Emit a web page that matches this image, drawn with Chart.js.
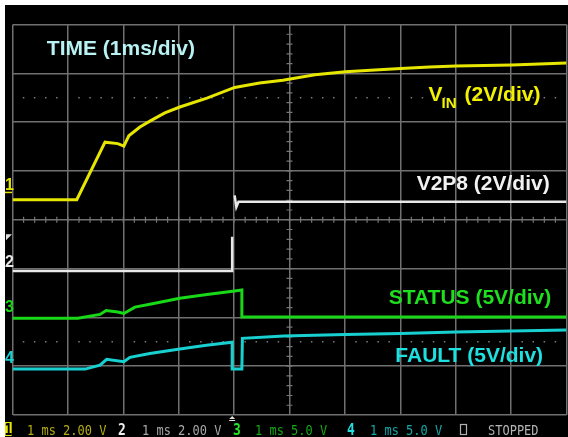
<!DOCTYPE html>
<html lang="en">
<head>
<meta charset="UTF-8">
<title>Start-up waveforms</title>
<script src="https://cdn.jsdelivr.net/npm/chart.js"></script>
<style>
    html, body { margin: 0; background: #fff; }
    #scope {
        position: absolute;
        left: 5px; top: 5px;
        width: 563px; height: 432px;
        background: #000;
    }
</style>
</head>
<body>
<div id="scope"><canvas id="scopeChart"></canvas></div>
<script>
// x = time in ms (1 ms/div), y = screen level in divisions (centre line = 0)
const vinTime = [0, 1.16, 1.67, 1.90, 2.01, 2.10, 2.30, 2.48, 2.75, 3.02, 3.51, 4.01, 4.46, 4.88, 5.46, 6.01, 6.54, 7.01, 7.53, 8.00, 8.52, 9.01, 9.51, 10];
const vinDiv  = [0.41, 0.41, 1.59, 1.56, 1.51, 1.72, 1.90, 2.02, 2.19, 2.31, 2.49, 2.71, 2.80, 2.86, 2.97, 3.03, 3.07, 3.10, 3.13, 3.15, 3.16, 3.17, 3.19, 3.21];

const v2p8Time = [0, 3.965, 3.965, 3.99, 4.01, 4.04, 4.08, 10];
const v2p8Div  = [-1.05, -1.05, -0.35, null, 0.50, 0.26, 0.37, 0.37];

const statusTime = [0, 1.18, 1.58, 1.69, 1.90, 2.01, 2.21, 2.48, 3.02, 3.51, 4.01, 4.14, 4.14, 10];
const statusDiv  = [-2.02, -2.02, -1.94, -1.86, -1.89, -1.92, -1.79, -1.73, -1.61, -1.53, -1.46, -1.44, -1.99, -1.99];

const faultTime = [0, 1.31, 1.58, 1.70, 2.01, 2.12, 2.48, 3.02, 3.50, 3.965, 3.965, 4.14, 4.15, 4.90, 6.01, 7.01, 8.00, 9.01, 10];
const faultDiv  = [-3.06, -3.06, -2.98, -2.86, -2.91, -2.82, -2.74, -2.65, -2.57, -2.51, -3.06, -3.06, -2.43, -2.38, -2.35, -2.33, -2.30, -2.28, -2.26];

const readouts = ['1 ms 2.00 V', '1 ms 2.00 V', '1 ms 5.0 V', '1 ms 5.0 V'];
const runState = 'STOPPED';

function pts(t, v) { return t.map((x, i) => ({ x: x, y: v[i] })); }

const LABEL_FONT = "bold 21px 'Liberation Sans', Arial, sans-serif";

const scopeDecor = {
    id: 'scopeDecor',
    beforeDatasetsDraw(chart) {
        const { ctx, scales: { x, y } } = chart;
        const cx = x.getPixelForValue(5), cy = y.getPixelForValue(0);
        ctx.save();
        // minor ticks on the centre lines
        ctx.strokeStyle = '#767676';
        ctx.lineWidth = 1.2;
        ctx.beginPath();
        for (let k = 1; k < 50; k++) {
            const px = x.getPixelForValue(k / 5);
            ctx.moveTo(px, cy - 3); ctx.lineTo(px, cy + 3);
        }
        for (let k = -19; k < 20; k++) {
            const py = y.getPixelForValue(k / 5);
            ctx.moveTo(cx - 3, py); ctx.lineTo(cx + 3, py);
        }
        ctx.stroke();
        // dotted lines at +/-2.5 div
        ctx.fillStyle = '#7c7c7c';
        [2.5, -2.5].forEach(lv => {
            const py = y.getPixelForValue(lv);
            for (let k = 1; k < 50; k++) {
                if (k % 5 === 0) continue;
                ctx.fillRect(x.getPixelForValue(k / 5) - 0.75, py - 0.75, 1.5, 1.5);
            }
        });
        ctx.restore();
    },
    afterDatasetsDraw(chart) {
        const { ctx, scales: { x, y } } = chart;
        ctx.save();
        ctx.textAlign = 'left';
        ctx.textBaseline = 'alphabetic';
        ctx.font = LABEL_FONT;
        const put = (txt, xv, yv, col) => {
            ctx.fillStyle = col;
            ctx.fillText(txt, x.getPixelForValue(xv), y.getPixelForValue(yv));
        };
        put('TIME (1ms/div)', 0.62, 3.375, '#b8f2f2');
        put('V2P8 (2V/div)', 7.295, 0.61, '#f2f2f2');
        put('STATUS (5V/div)', 6.79, -1.726, '#1ee01e');
        put('FAULT (5V/div)', 6.91, -2.908, '#1ee0e0');
        // V with subscript IN
        const vx = x.getPixelForValue(7.511), vy = y.getPixelForValue(2.433);
        ctx.fillStyle = '#f2f200';
        ctx.fillText('V', vx, vy);
        const vw = ctx.measureText('V').width;
        ctx.font = "bold 15px 'Liberation Sans', Arial, sans-serif";
        ctx.fillText('IN', vx + vw - 1, vy + 7);
        ctx.font = LABEL_FONT;
        ctx.fillText('(2V/div)', x.getPixelForValue(8.16), vy);
        ctx.restore();
    },
    afterDraw(chart) {
        const { ctx, scales: { x, y } } = chart;
        ctx.save();
        // channel ground markers on the left edge
        ctx.font = "bold 16px 'Liberation Sans', Arial, sans-serif";
        ctx.textAlign = 'center';
        ctx.textBaseline = 'alphabetic';
        const marker = (txt, yv, col) => {
            ctx.fillStyle = col;
            ctx.fillText(txt, 4.5, y.getPixelForValue(yv));
        };
        marker('1', 0.61, '#e6e600');
        ctx.fillStyle = '#e6e600';
        ctx.fillRect(0, y.getPixelForValue(0.575), 7, 1.5);
        marker('2', -0.962, '#e8e8e8');
        marker('3', -1.884, '#18d818');
        marker('4', -2.941, '#18d0d0');
        // trigger level arrow
        const ty = y.getPixelForValue(-0.36);
        ctx.fillStyle = '#e0e0e0';
        ctx.beginPath();
        ctx.moveTo(1, ty - 3); ctx.lineTo(7, ty - 3); ctx.lineTo(1, ty + 3);
        ctx.closePath(); ctx.fill();
        // trigger time marker under the grid
        const tx = x.getPixelForValue(3.965), by = chart.chartArea.bottom;
        ctx.beginPath();
        ctx.moveTo(tx - 3, by + 4); ctx.lineTo(tx + 3, by + 4); ctx.lineTo(tx, by + 1);
        ctx.closePath(); ctx.fill();
        ctx.fillRect(tx - 3, by + 5, 6, 1);

        // status bar (text slightly stretched vertically like the scope font)
        const base = 430;
        ctx.textAlign = 'left';
        ctx.fillStyle = '#e6e600';
        ctx.fillRect(0, 417, 6.7, 14);
        const seg = (txt, px, col, bold) => {
            ctx.save();
            ctx.translate(px, base);
            ctx.scale(1, 1.2);
            ctx.font = (bold ? 'bold 13px' : '12px') + " 'DejaVu Sans Mono', monospace";
            ctx.fillStyle = col;
            ctx.fillText(txt, 0, 0);
            ctx.restore();
        };
        seg('1', -0.5, '#000', true);
        seg(readouts[0], 22, '#b4ac10', false);
        seg('2', 113, '#eeeeee', true);
        seg(readouts[1], 137, '#a8a8a8', false);
        seg('3', 228, '#22e622', true);
        seg(readouts[2], 250, '#14a814', false);
        seg('4', 342, '#22e0e0', true);
        seg(readouts[3], 365, '#14a8a8', false);
        ctx.strokeStyle = '#b0b0b0';
        ctx.lineWidth = 1.2;
        ctx.strokeRect(455.5, 419.5, 6, 10);
        seg(runState, 483, '#b4b4b4', false);
        ctx.restore();
    }
};

const trace = (data, color, width) => ({
    data: data,
    showLine: true,
    borderColor: color,
    backgroundColor: color,
    borderWidth: width,
    pointRadius: 0,
    tension: 0,
    spanGaps: false
});

new Chart(document.getElementById('scopeChart'), {
    type: 'scatter',
    data: {
        datasets: [
            trace(pts(vinTime, vinDiv), '#e6e600', 3),
            trace(pts(v2p8Time, v2p8Div), '#e8e8e8', 2.5),
            trace(pts(statusTime, statusDiv), '#18d818', 3),
            trace(pts(faultTime, faultDiv), '#18d0d0', 3)
        ]
    },
    options: {
        responsive: true,
        maintainAspectRatio: false,
        animation: false,
        events: [],
        layout: { padding: { left: 7.5, top: 19.5, right: 1.5, bottom: 22 } },
        plugins: { legend: { display: false }, tooltip: { enabled: false } },
        scales: {
            x: {
                type: 'linear', min: 0, max: 10,
                ticks: { display: false, stepSize: 1 },
                grid: { color: '#707070', lineWidth: 1.5, drawTicks: false, tickLength: 0 },
                border: { display: false }
            },
            y: {
                type: 'linear', min: -4, max: 4,
                ticks: { display: false, stepSize: 1 },
                grid: { color: '#707070', lineWidth: 1.5, drawTicks: false, tickLength: 0 },
                border: { display: false }
            }
        }
    },
    plugins: [scopeDecor]
});
</script>
</body>
</html>
